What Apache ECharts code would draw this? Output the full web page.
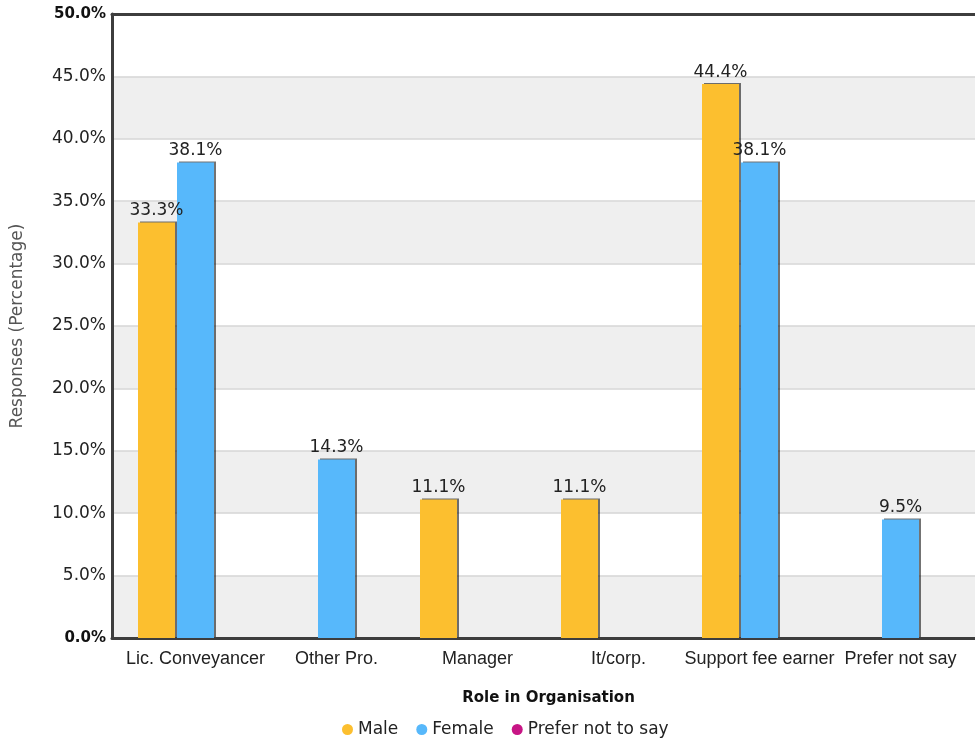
<!DOCTYPE html>
<html>
<head>
<meta charset="utf-8">
<script src="https://cdn.jsdelivr.net/npm/echarts@6/dist/echarts.min.js"></script>
<style>
html,body{margin:0;padding:0;background:#fff;}
#c{width:975px;height:742px;}
</style>
</head>
<body>
<div id="c"></div>
<script>
const categories = ['Lic. Conveyancer', 'Other Pro.', 'Manager', 'It/corp.', 'Support fee earner', 'Prefer not say'];
const seriesNames = ['Male', 'Female', 'Prefer not to say'];
const maleValues = [33.3, 0, 11.1, 11.1, 44.4, 0];
const femaleValues = [38.1, 14.3, 0, 0, 38.1, 9.5];
const preferValues = [0, 0, 0, 0, 0, 0];
const yTicks = [0, 5, 10, 15, 20, 25, 30, 35, 40, 45, 50];

const colors = ['#FCBF2F', '#57B8FB', '#C71585'];
const font = 'DejaVu Sans';
const axisDark = {show: true, lineStyle: {color: '#3d3d3d', width: 3}};

function barSeries(name, data, color) {
  return {
    name: name,
    type: 'bar',
    xAxisIndex: 1,
    yAxisIndex: 1,
    data: data,
    barWidth: 37,
    barGap: '5.4%',
    itemStyle: {
      color: color,
      shadowColor: 'rgba(0,0,0,0.55)',
      shadowOffsetX: 2,
      shadowOffsetY: -1,
      shadowBlur: 0
    },
    label: {
      show: true,
      position: 'top',
      distance: 3,
      fontFamily: font,
      fontSize: 17,
      color: '#222',
      formatter: p => (p.value ? p.value.toFixed(1) + '%' : '')
    }
  };
}

const chart = echarts.init(document.getElementById('c'));
chart.setOption({
  animation: false,
  backgroundColor: '#fff',
  color: colors,
  grid: [
    {left: 112, right: -10, top: 14, bottom: 104, outerBoundsMode: 'none', containLabel: false},
    {left: 125, right: 4, top: 14, bottom: 104, outerBoundsMode: 'none', containLabel: false}
  ],
  legend: {
    data: seriesNames,
    icon: 'circle',
    itemWidth: 11,
    itemHeight: 11,
    itemGap: 18,
    left: 337,
    top: 716,
    textStyle: {fontFamily: font, fontSize: 17, color: '#222'}
  },
  xAxis: [
    {
      gridIndex: 0, type: 'category', data: categories, position: 'bottom',
      axisLine: axisDark, axisTick: {show: false}, axisLabel: {show: false},
      name: 'Role in Organisation', nameLocation: 'middle', nameGap: 53,
      nameTextStyle: {fontFamily: font, fontSize: 15, fontWeight: 'bold', color: '#111'}
    },
    {
      gridIndex: 1, type: 'category', data: categories,
      axisLine: {show: false}, axisTick: {show: false},
      axisLabel: {margin: 12, fontFamily: 'Liberation Sans', fontSize: 18, color: '#222', interval: 0}
    },
    {
      gridIndex: 0, type: 'category', data: categories, position: 'top',
      axisLine: axisDark, axisTick: {show: false}, axisLabel: {show: false}
    }
  ],
  yAxis: [
    {
      gridIndex: 0, type: 'value', min: yTicks[0], max: yTicks[yTicks.length - 1], interval: 5,
      axisLine: axisDark, axisTick: {show: false},
      axisLabel: {
        margin: 6, fontFamily: font, fontSize: 17, color: '#222',
        formatter: v => (v === 0 || v === 50) ? '{b|' + v.toFixed(1) + '%}' : v.toFixed(1) + '%',
        rich: {b: {fontFamily: font, fontSize: 15, fontWeight: 'bold', color: '#111'}}
      },
      splitLine: {show: true, lineStyle: {color: '#d6d6d6', width: 1.5}},
      splitArea: {show: true, areaStyle: {color: ['#efefef', '#ffffff']}},
      name: 'Responses (Percentage)', nameLocation: 'middle', nameGap: 86,
      nameTextStyle: {fontFamily: font, fontSize: 17, color: '#555'}
    },
    {gridIndex: 1, type: 'value', min: 0, max: 50, interval: 5, show: false, splitLine: {show: false}}
  ],
  series: [
    barSeries(seriesNames[0], maleValues, colors[0]),
    barSeries(seriesNames[1], femaleValues, colors[1]),
    barSeries(seriesNames[2], preferValues, colors[2])
  ]
});
</script>
</body>
</html>
